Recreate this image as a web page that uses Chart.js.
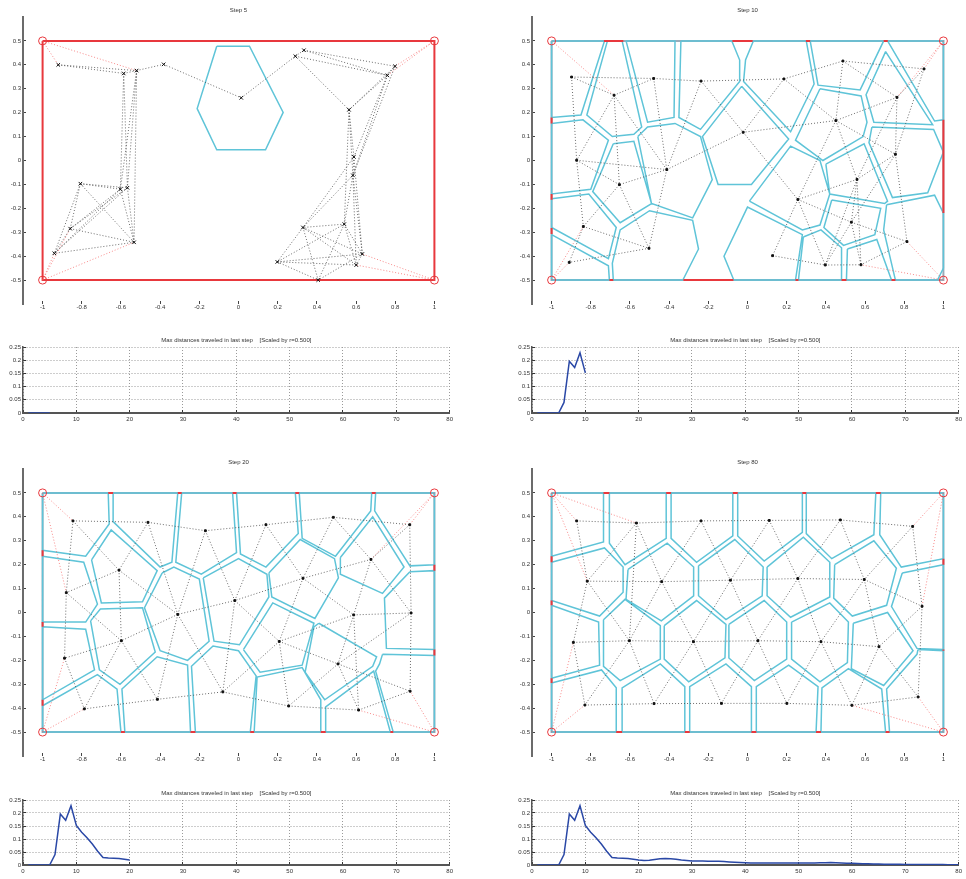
<!DOCTYPE html>
<html>
<head>
<meta charset="utf-8">
<script src="https://cdn.jsdelivr.net/npm/chart.js@4.4.0/dist/chart.umd.min.js"></script>
<style>
  body { margin: 0; background: #fff; width: 966px; height: 879px; position: relative; overflow: hidden; }
  canvas { position: absolute; }
</style>
</head>
<body>
<canvas id="map5"></canvas>
<canvas id="map10"></canvas>
<canvas id="dist5"></canvas>
<canvas id="dist10"></canvas>
<canvas id="map20"></canvas>
<canvas id="map80"></canvas>
<canvas id="dist20"></canvas>
<canvas id="dist80"></canvas>
<script>
// tick labels
const xTicksMap = [-1, -0.8, -0.6, -0.4, -0.2, 0, 0.2, 0.4, 0.6, 0.8, 1];
const yTicksMap = [-0.5, -0.4, -0.3, -0.2, -0.1, 0, 0.1, 0.2, 0.3, 0.4, 0.5];
const xTicksDist = [0, 10, 20, 30, 40, 50, 60, 70, 80];
const yTicksDist = [0, 0.05, 0.1, 0.15, 0.2, 0.25];

// domain: corners (TL, TR, BL, BR) and outline
const corners = [[-1, 0.5], [1, 0.5], [-1, -0.5], [1, -0.5]];
const frame = [[-1, 0.5], [1, 0.5], [1, -0.5], [-1, -0.5], [-1, 0.5]];

// max distance travelled at each step (step 1..80)
const maxDist = [0, 0, 0, 0, 0, 0.04, 0.196, 0.172, 0.228, 0.152,
  0.126, 0.105, 0.081, 0.053, 0.029, 0.027, 0.026, 0.025, 0.022, 0.019,
  0.017, 0.018, 0.021, 0.024, 0.025, 0.024, 0.022, 0.019, 0.017, 0.015,
  0.015, 0.015, 0.014, 0.014, 0.014, 0.013, 0.012, 0.011, 0.01, 0.009,
  0.008, 0.008, 0.008, 0.008, 0.008, 0.008, 0.008, 0.008, 0.008, 0.008,
  0.008, 0.008, 0.008, 0.009, 0.009, 0.01, 0.009, 0.008, 0.007, 0.007,
  0.006, 0.005, 0.005, 0.004, 0.004, 0.003, 0.003, 0.003, 0.003, 0.002,
  0.002, 0.002, 0.002, 0.002, 0.002, 0.002, 0.002, 0.001, 0.001, 0.001];

// ---- step 5
const pts5 = [[-0.92, 0.40], [-0.586, 0.364], [-0.52, 0.376], [-0.382, 0.402], [0.014, 0.262], [0.29, 0.436],
  [0.334, 0.461], [0.76, 0.356], [0.799, 0.394], [0.564, 0.212], [0.589, 0.015], [0.584, -0.062],
  [0.54, -0.266], [0.329, -0.28], [0.632, -0.391], [0.601, -0.437], [0.198, -0.424], [0.407, -0.5],
  [-0.807, -0.097], [-0.603, -0.12], [-0.567, -0.114], [-0.859, -0.285], [-0.533, -0.342], [-0.94, -0.388]];
const edges5 = [[1,2],[1,3],[2,3],[3,4],[4,5],[5,6],[6,7],[6,10],[6,8],[7,8],[7,9],[8,9],[8,10],[9,10],
  [2,20],[2,21],[3,20],[3,21],[3,23],[19,20],[19,21],[19,22],[19,24],[19,23],[20,22],[21,22],[21,24],
  [20,24],[22,23],[23,24],[22,24],[20,23],[21,23],[10,11],[10,12],[10,13],[8,11],[8,12],[9,12],[11,12],
  [11,14],[12,14],[12,13],[12,15],[11,15],[12,16],[13,14],[13,16],[13,17],[14,17],[14,18],[14,15],
  [14,16],[15,17],[16,17],[17,18],[13,18],[15,18],[15,16],[13,15]];
const red5 = [[0,1],[0,3],[2,24],[2,22],[2,23],[1,9],[1,8],[3,15],[3,16]];
const cells5 = [[[-0.111, 0.478], [0.056, 0.478], [0.228, 0.201], [0.138, 0.045], [-0.111, 0.045], [-0.211, 0.217]]];
const gaps5 = [];

// ---- step 10
const pts10 = [[-0.898, 0.349], [-0.681, 0.273], [-0.479, 0.343], [-0.237, 0.332], [0.186, 0.341], [0.487, 0.416],
  [0.901, 0.383], [0.763, 0.264], [0.451, 0.167], [-0.022, 0.118], [-0.872, 0.001], [-0.412, -0.038],
  [-0.654, -0.101], [0.755, 0.026], [0.559, -0.079], [0.257, -0.163], [0.53, -0.258], [0.814, -0.339],
  [-0.838, -0.276], [-0.503, -0.367], [-0.91, -0.426], [0.128, -0.398], [0.397, -0.437], [0.579, -0.436]];
const edges10 = [[1,2],[1,3],[2,3],[3,4],[4,5],[5,6],[6,7],[6,8],[6,9],[7,8],[8,9],[5,9],[5,10],[4,10],
  [4,12],[3,12],[2,12],[2,11],[2,13],[1,11],[11,12],[11,13],[12,13],[10,12],[10,16],[9,10],[9,14],[9,15],
  [9,16],[8,14],[7,14],[14,15],[14,18],[14,17],[15,16],[15,17],[15,23],[15,24],[16,17],[16,22],[16,23],
  [17,23],[17,24],[17,18],[18,24],[22,23],[23,24],[13,19],[13,20],[12,20],[11,19],[19,20],[19,21],[20,21],[8,15]];
const red10 = [[0,2],[2,21],[2,19],[1,7],[1,8],[3,24],[3,18]];
const cells10 = [
  [[-1, 0.5], [-0.73, 0.5], [-0.85, 0.19], [-1, 0.18]],
  [[-0.715, 0.5], [-0.64, 0.5], [-0.54, 0.14], [-0.58, 0.11], [-0.69, 0.10], [-0.82, 0.19]],
  [[-0.62, 0.5], [-0.37, 0.5], [-0.375, 0.18], [-0.51, 0.16]],
  [[-0.34, 0.5], [-0.08, 0.5], [-0.04, 0.42], [-0.04, 0.33], [-0.24, 0.13], [-0.35, 0.18]],
  [[0.03, 0.5], [0.3, 0.5], [0.34, 0.32], [0.22, 0.12], [-0.02, 0.33], [-0.01, 0.42]],
  [[-0.03, 0.31], [0.21, 0.09], [0.02, -0.10], [-0.15, -0.10], [-0.23, 0.10]],
  [[-0.56, 0.10], [-0.51, 0.14], [-0.37, 0.155], [-0.24, 0.10], [-0.18, -0.08], [-0.28, -0.24], [-0.49, -0.18]],
  [[-0.685, 0.07], [-0.58, 0.08], [-0.49, -0.18], [-0.65, -0.26], [-0.79, -0.13]],
  [[-1, 0.155], [-0.84, 0.17], [-0.71, 0.085], [-0.80, -0.12], [-1, -0.14]],
  [[-1, -0.16], [-0.81, -0.14], [-0.67, -0.28], [-0.71, -0.41], [-1, -0.28]],
  [[-1, -0.31], [-0.71, -0.44], [-0.705, -0.5], [-1, -0.5]],
  [[-0.685, -0.5], [-0.69, -0.43], [-0.65, -0.29], [-0.50, -0.21], [-0.28, -0.25], [-0.25, -0.37], [-0.33, -0.5]],
  [[-0.07, -0.5], [-0.12, -0.40], [0, -0.195], [0.28, -0.31], [0.245, -0.5]],
  [[0.01, -0.17], [0.22, 0.06], [0.37, 0], [0.42, -0.14], [0.37, -0.27], [0.28, -0.29]],
  [[0.37, 0.30], [0.58, 0.27], [0.61, 0.16], [0.59, 0.10], [0.385, 0], [0.245, 0.085]],
  [[0.32, 0.5], [0.36, 0.315], [0.575, 0.295], [0.695, 0.5]],
  [[0.715, 0.5], [1, 0.5], [1, 0.17], [0.955, 0.165]],
  [[0.705, 0.455], [0.945, 0.15], [0.645, 0.16], [0.605, 0.275]],
  [[0.635, 0.14], [0.95, 0.13], [1, 0.035], [0.92, -0.135], [0.74, -0.155], [0.62, 0.075]],
  [[0.40, -0.015], [0.595, 0.07], [0.715, -0.17], [0.70, -0.18], [0.42, -0.14]],
  [[0.43, -0.165], [0.68, -0.20], [0.65, -0.31], [0.49, -0.355], [0.39, -0.28]],
  [[0.71, -0.185], [0.955, -0.145], [1, -0.22], [1, -0.45], [0.97, -0.5], [0.755, -0.5], [0.695, -0.29]],
  [[0.51, -0.37], [0.66, -0.33], [0.735, -0.5], [0.505, -0.5]],
  [[0.285, -0.32], [0.375, -0.29], [0.48, -0.365], [0.48, -0.5], [0.26, -0.5]]
];
const gaps10 = [[[-0.733, 0.5], [-0.634, 0.5]], [[-0.077, 0.5], [0.026, 0.5]], [[0.298, 0.5], [0.32, 0.5]],
  [[0.695, 0.5], [0.716, 0.5]], [[1, 0.17], [1, -0.22]], [[-0.327, -0.5], [-0.072, -0.5]],
  [[0.245, -0.5], [0.26, -0.5]], [[0.48, -0.5], [0.505, -0.5]], [[0.735, -0.5], [0.755, -0.5]],
  [[-0.705, -0.5], [-0.685, -0.5]], [[-1, 0.155], [-1, 0.18]], [[-1, -0.14], [-1, -0.164]], [[-1, -0.282], [-1, -0.307]]];

// ---- step 20
const pts20 = [[-0.845, 0.383], [-0.462, 0.377], [-0.169, 0.342], [0.14, 0.367], [0.484, 0.398], [0.874, 0.367],
  [0.676, 0.222], [-0.61, 0.177], [0.329, 0.143], [-0.879, 0.083], [-0.019, 0.05], [-0.31, -0.008],
  [0.588, -0.01], [0.881, -0.002], [-0.598, -0.118], [0.208, -0.121], [-0.888, -0.191], [0.508, -0.215],
  [-0.08, -0.332], [0.876, -0.329], [-0.414, -0.363], [0.256, -0.391], [0.613, -0.408], [-0.787, -0.403]];
const edges20 = [[1,2],[2,3],[3,4],[4,5],[5,6],[24,21],[21,19],[19,22],[22,23],[23,20],[1,10],[10,17],
  [17,24],[6,14],[14,20],[1,8],[2,8],[2,12],[3,12],[3,11],[4,11],[4,9],[5,9],[5,7],[6,7],[7,9],[7,13],
  [7,14],[8,10],[8,12],[8,15],[10,15],[11,12],[9,11],[11,16],[11,19],[12,15],[12,21],[12,19],[15,17],
  [15,24],[15,21],[9,16],[13,16],[16,18],[16,19],[16,22],[9,13],[13,14],[13,18],[13,23],[18,23],[18,20],
  [14,18],[18,22]];
const red20 = [[0,1],[0,10],[2,24],[2,17],[1,6],[1,7],[3,23],[3,20]];
const cells20 = [
  [[-1, 0.5], [-0.665, 0.5], [-0.66, 0.37], [-0.78, 0.235], [-1, 0.26]],
  [[-0.64, 0.5], [-0.31, 0.5], [-0.34, 0.21], [-0.40, 0.19], [-0.64, 0.38]],
  [[-0.29, 0.5], [-0.03, 0.5], [-0.01, 0.25], [-0.19, 0.16], [-0.32, 0.21]],
  [[-0.01, 0.5], [0.29, 0.5], [0.305, 0.33], [0.14, 0.19], [0.01, 0.245]],
  [[0.31, 0.5], [0.68, 0.5], [0.675, 0.425], [0.495, 0.235], [0.325, 0.31]],
  [[0.70, 0.5], [1, 0.5], [1, 0.2], [0.875, 0.195], [0.695, 0.425]],
  [[0.52, 0.23], [0.685, 0.40], [0.845, 0.19], [0.735, 0.08], [0.52, 0.16]],
  [[0.875, 0.17], [1, 0.175], [1, -0.155], [0.755, -0.15], [0.745, 0.06]],
  [[0.735, -0.175], [1, -0.18], [1, -0.5], [0.79, -0.5], [0.70, -0.245], [0.72, -0.215]],
  [[0.445, -0.5], [0.445, -0.395], [0.69, -0.245], [0.775, -0.5]],
  [[0.41, -0.045], [0.705, -0.185], [0.685, -0.225], [0.44, -0.365], [0.34, -0.25], [0.385, -0.06]],
  [[0.08, -0.5], [0.095, -0.27], [0.325, -0.23], [0.42, -0.365], [0.42, -0.5]],
  [[0.025, -0.155], [0.175, 0.04], [0.385, -0.045], [0.325, -0.22], [0.11, -0.25]],
  [[0.155, 0.165], [0.315, 0.305], [0.49, 0.225], [0.51, 0.145], [0.39, -0.025], [0.17, 0.065]],
  [[-0.18, 0.145], [0, 0.225], [0.145, 0.16], [0.155, 0.065], [0.005, -0.135], [-0.125, -0.12]],
  [[-0.39, 0.165], [-0.33, 0.19], [-0.20, 0.14], [-0.15, -0.12], [-0.26, -0.20], [-0.40, -0.16], [-0.48, 0.02]],
  [[-0.75, 0.22], [-0.65, 0.345], [-0.415, 0.175], [-0.49, 0.045], [-0.70, 0.04]],
  [[-1, 0.235], [-0.79, 0.21], [-0.72, 0.035], [-0.78, -0.04], [-1, -0.04]],
  [[-0.755, -0.035], [-0.705, 0.015], [-0.49, 0.02], [-0.425, -0.165], [-0.605, -0.30], [-0.71, -0.24]],
  [[-1, -0.06], [-0.78, -0.07], [-0.735, -0.24], [-1, -0.365]],
  [[-1, -0.39], [-0.72, -0.26], [-0.62, -0.32], [-0.60, -0.5], [-1, -0.5]],
  [[-0.58, -0.5], [-0.595, -0.32], [-0.415, -0.185], [-0.26, -0.22], [-0.245, -0.5]],
  [[-0.22, -0.5], [-0.24, -0.225], [-0.13, -0.14], [0, -0.16], [0.09, -0.265], [0.06, -0.5]]
];
const gaps20 = [[[-1, 0.26], [-1, 0.235]], [[-1, -0.04], [-1, -0.06]], [[-1, -0.365], [-1, -0.39]],
  [[-0.665, 0.5], [-0.64, 0.5]], [[-0.31, 0.5], [-0.29, 0.5]], [[-0.03, 0.5], [-0.01, 0.5]],
  [[0.29, 0.5], [0.31, 0.5]], [[0.68, 0.5], [0.70, 0.5]], [[1, 0.2], [1, 0.175]], [[1, -0.155], [1, -0.18]],
  [[-0.60, -0.5], [-0.58, -0.5]], [[-0.245, -0.5], [-0.22, -0.5]], [[0.06, -0.5], [0.08, -0.5]],
  [[0.42, -0.5], [0.445, -0.5]], [[0.775, -0.5], [0.79, -0.5]]];

// ---- step 80
const pts80 = [[-0.872, 0.383], [-0.567, 0.374], [-0.237, 0.383], [0.111, 0.385], [0.474, 0.387], [0.843, 0.36],
  [-0.818, 0.131], [-0.438, 0.129], [-0.087, 0.135], [0.257, 0.142], [0.596, 0.138], [0.891, 0.026],
  [-0.889, -0.125], [-0.603, -0.118], [-0.276, -0.122], [0.053, -0.118], [0.375, -0.122], [0.671, -0.143],
  [-0.83, -0.387], [-0.477, -0.381], [-0.133, -0.38], [0.201, -0.38], [0.533, -0.388], [0.871, -0.353]];
const edges80 = [[1,2],[2,3],[3,4],[4,5],[5,6],[7,8],[8,9],[9,10],[10,11],[11,12],[13,14],[14,15],[15,16],
  [16,17],[17,18],[19,20],[20,21],[21,22],[22,23],[23,24],[1,7],[2,7],[2,8],[3,8],[3,9],[4,9],[4,10],
  [5,10],[5,11],[6,11],[6,12],[7,13],[7,14],[8,14],[8,15],[9,15],[9,16],[10,16],[10,17],[11,17],[11,18],
  [12,18],[12,24],[13,19],[14,19],[14,20],[15,20],[15,21],[16,21],[16,22],[17,22],[17,23],[18,23],[18,24],[2,14]];
const red80 = [[0,1],[0,2],[0,7],[2,13],[2,19],[1,6],[1,12],[3,24],[3,23]];
const cells80 = [
  [[-1, 0.5], [-0.735, 0.5], [-0.735, 0.295], [-1, 0.235]],
  [[-0.705, 0.5], [-0.415, 0.5], [-0.415, 0.31], [-0.625, 0.2], [-0.705, 0.29]],
  [[-0.39, 0.5], [-0.075, 0.5], [-0.075, 0.32], [-0.26, 0.21], [-0.39, 0.31]],
  [[-0.05, 0.5], [0.28, 0.5], [0.28, 0.335], [0.085, 0.215], [-0.05, 0.32]],
  [[0.30, 0.5], [0.655, 0.5], [0.645, 0.325], [0.43, 0.225], [0.30, 0.33]],
  [[0.68, 0.5], [1, 0.5], [1, 0.225], [0.785, 0.19], [0.675, 0.325]],
  [[-1, 0.21], [-0.73, 0.27], [-0.635, 0.19], [-0.635, 0.085], [-0.755, -0.015], [-1, 0.05]],
  [[-0.61, 0.18], [-0.41, 0.29], [-0.275, 0.19], [-0.275, 0.07], [-0.44, -0.035], [-0.62, 0.055]],
  [[-0.25, 0.195], [-0.065, 0.305], [0.08, 0.19], [0.075, 0.07], [-0.11, -0.03], [-0.25, 0.07]],
  [[0.10, 0.19], [0.285, 0.315], [0.42, 0.21], [0.42, 0.065], [0.22, -0.02], [0.10, 0.07]],
  [[0.445, 0.20], [0.645, 0.30], [0.76, 0.185], [0.71, 0.03], [0.535, -0.015], [0.44, 0.06]],
  [[0.79, 0.165], [1, 0.2], [1, -0.155], [0.865, -0.15], [0.735, 0.025]],
  [[-1, 0.03], [-0.76, -0.04], [-0.755, -0.22], [-1, -0.275]],
  [[-0.735, -0.03], [-0.625, 0.055], [-0.445, -0.055], [-0.445, -0.195], [-0.65, -0.285], [-0.735, -0.225]],
  [[-0.425, -0.055], [-0.26, 0.05], [-0.11, -0.05], [-0.115, -0.19], [-0.30, -0.29], [-0.425, -0.195]],
  [[-0.095, -0.05], [0.085, 0.05], [0.20, -0.04], [0.20, -0.195], [0.035, -0.285], [-0.095, -0.19]],
  [[0.225, -0.04], [0.42, 0.04], [0.515, -0.04], [0.51, -0.21], [0.37, -0.29], [0.225, -0.195]],
  [[0.54, -0.045], [0.715, 0], [0.845, -0.16], [0.695, -0.305], [0.53, -0.235]],
  [[0.87, -0.155], [1, -0.16], [1, -0.5], [0.725, -0.5], [0.71, -0.32], [0.865, -0.175]],
  [[-1, -0.295], [-0.745, -0.24], [-0.67, -0.315], [-0.67, -0.5], [-1, -0.5]],
  [[-0.64, -0.5], [-0.64, -0.315], [-0.445, -0.215], [-0.32, -0.31], [-0.32, -0.5]],
  [[-0.295, -0.5], [-0.295, -0.31], [-0.11, -0.215], [0.02, -0.31], [0.02, -0.5]],
  [[0.045, -0.5], [0.045, -0.31], [0.21, -0.22], [0.36, -0.31], [0.35, -0.5]],
  [[0.375, -0.5], [0.38, -0.315], [0.515, -0.235], [0.685, -0.32], [0.705, -0.5]]
];
const gaps80 = [[[-0.735, 0.5], [-0.705, 0.5]], [[-0.415, 0.5], [-0.39, 0.5]], [[-0.075, 0.5], [-0.05, 0.5]],
  [[0.28, 0.5], [0.30, 0.5]], [[0.655, 0.5], [0.68, 0.5]], [[-1, 0.235], [-1, 0.21]], [[-1, 0.05], [-1, 0.03]],
  [[-1, -0.275], [-1, -0.295]], [[1, 0.225], [1, 0.2]], [[1, -0.155], [1, -0.16]], [[-0.67, -0.5], [-0.64, -0.5]],
  [[-0.32, -0.5], [-0.295, -0.5]], [[0.02, -0.5], [0.045, -0.5]], [[0.35, -0.5], [0.375, -0.5]], [[0.705, -0.5], [0.725, -0.5]]];

// ---- helpers
const FONT = { family: '"Liberation Sans", Arial, sans-serif', size: 6 };
const M = { l: 23, t: 17, r: 6, b: 22 };

function xy(p) { return { x: p[0], y: p[1] }; }
// several paths in one dataset, split by null points
function paths(list) {
  const out = [];
  list.forEach(p => { p.forEach(q => out.push(xy(q))); out.push({ x: null, y: null }); });
  return out;
}
function closed(c) { return c.concat([c[0]]); }
function edgeSegs(pts, edges) { return edges.map(e => [pts[e[0] - 1], pts[e[1] - 1]]); }
function cornerSegs(pts, red) { return red.map(e => [corners[e[0]], pts[e[1] - 1]]); }

function place(id, box) {
  const c = document.getElementById(id);
  c.width = box[2] - box[0] + M.l + M.r;
  c.height = box[3] - box[1] + M.t + M.b;
  c.style.left = (box[0] - M.l) + 'px';
  c.style.top = (box[1] - M.t) + 'px';
  return c;
}

const panelTitle = {
  id: 'panelTitle',
  afterDraw(chart, args, opts) {
    const { ctx, chartArea } = chart;
    ctx.save();
    ctx.font = FONT.size + 'px ' + FONT.family;
    ctx.fillStyle = '#333';
    ctx.textAlign = 'center';
    ctx.textBaseline = 'middle';
    ctx.fillText(opts.text, (chartArea.left + chartArea.right) / 2, chartArea.top - opts.gap);
    ctx.restore();
  }
};

function axis(min, max, ticks, horizontal, extra) {
  return Object.assign({
    type: 'linear', min: min, max: max,
    afterBuildTicks: s => { s.ticks = ticks.map(v => ({ value: v })); },
    afterFit: s => { if (horizontal) s.height = M.b; else s.width = M.l; },
    ticks: { font: FONT, color: '#333', autoSkip: false, maxRotation: 0, padding: horizontal ? 3 : 5, callback: v => String(v) }
  }, extra);
}

function mapChart(id, box, title, d) {
  new Chart(place(id, box), {
    type: 'scatter',
    data: {
      datasets: [
        { data: d.pts.map(xy), pointStyle: d.marker, pointRadius: d.mr, borderColor: '#111', backgroundColor: '#111', borderWidth: 1, order: 0 },
        { data: corners.map(xy), pointStyle: 'circle', pointRadius: 4, borderColor: '#e8383d', backgroundColor: 'rgba(0,0,0,0)', borderWidth: 1, order: 1 },
        { data: paths(edgeSegs(d.pts, d.edges)), showLine: true, pointRadius: 0, borderColor: 'rgba(60,60,60,0.75)', borderWidth: 1, borderDash: [1, 2], order: 2 },
        { data: paths(cornerSegs(d.pts, d.red)), showLine: true, pointRadius: 0, borderColor: 'rgba(245,90,90,0.7)', borderWidth: 1, borderDash: [1, 2], order: 3 },
        { data: paths(d.gaps), showLine: true, pointRadius: 0, borderColor: '#e8383d', borderWidth: 2, order: 4 },
        { data: paths(d.cells.map(closed)), showLine: true, pointRadius: 0, borderColor: '#5fc4d8', borderWidth: 1.5, order: 5 },
        { data: paths([frame]), showLine: true, pointRadius: 0, borderColor: d.frameColor, borderWidth: 2, order: 6 }
      ]
    },
    options: {
      responsive: false, animation: false, events: [],
      layout: { padding: { left: 0, top: M.t, right: M.r, bottom: 0 } },
      plugins: { legend: { display: false }, tooltip: { enabled: false }, panelTitle: { text: title, gap: 7 } },
      scales: {
        x: axis(-1.1, 1.1, xTicksMap, true, {
          border: { display: false },
          grid: { drawOnChartArea: false, tickLength: -3, tickColor: '#444' }
        }),
        y: axis(-0.6, 0.6, yTicksMap, false, {
          border: { display: true, color: '#6b6b6b', width: 2 },
          grid: { drawOnChartArea: false, tickLength: -3, tickColor: '#444' }
        })
      }
    },
    plugins: [panelTitle]
  });
}

function distChart(id, box, steps) {
  const data = maxDist.slice(0, steps).map((v, i) => ({ x: i + 1, y: v }));
  const xa = axis(0, 80, xTicksDist, true, {
    border: { display: true, color: '#555', width: 2, dash: [1, 2] },
    grid: { color: '#9a9a9a', lineWidth: 1, tickLength: -3, tickColor: '#333' }
  });
  xa.ticks.padding = 6;
  new Chart(place(id, box), {
    type: 'scatter',
    data: { datasets: [{ data: data, showLine: true, pointRadius: 0, borderColor: '#2a48a6', borderWidth: 1.5 }] },
    options: {
      responsive: false, animation: false, events: [],
      layout: { padding: { left: 0, top: M.t, right: M.r, bottom: 0 } },
      plugins: {
        legend: { display: false }, tooltip: { enabled: false },
        panelTitle: { text: 'Max distances traveled in last step    [Scaled by r=0.500]', gap: 6.5 }
      },
      scales: {
        x: xa,
        y: axis(0, 0.25, yTicksDist, false, {
          border: { display: true, color: '#555', width: 1.5, dash: [1, 2] },
          grid: { color: '#9a9a9a', lineWidth: 1, tickLength: -3, tickColor: '#333' }
        })
      }
    },
    plugins: [panelTitle]
  });
}

const GRAY = '#9aabb9';
mapChart('map5', [23, 17, 454, 304], 'Step 5',
  { pts: pts5, edges: edges5, red: red5, cells: cells5, gaps: gaps5, marker: 'crossRot', mr: 2.5, frameColor: '#e8383d' });
mapChart('map10', [532, 17, 963, 304], 'Step 10',
  { pts: pts10, edges: edges10, red: red10, cells: cells10, gaps: gaps10, marker: 'rect', mr: 1.3, frameColor: GRAY });
mapChart('map20', [23, 469, 454, 756], 'Step 20',
  { pts: pts20, edges: edges20, red: red20, cells: cells20, gaps: gaps20, marker: 'rect', mr: 1.3, frameColor: GRAY });
mapChart('map80', [532, 469, 963, 756], 'Step 80',
  { pts: pts80, edges: edges80, red: red80, cells: cells80, gaps: gaps80, marker: 'rect', mr: 1.3, frameColor: GRAY });

distChart('dist5', [23, 347, 453, 413], 5);
distChart('dist10', [532, 347, 962, 413], 10);
distChart('dist20', [23, 800, 453, 865], 20);
distChart('dist80', [532, 800, 962, 865], 80);
</script>
</body>
</html>
